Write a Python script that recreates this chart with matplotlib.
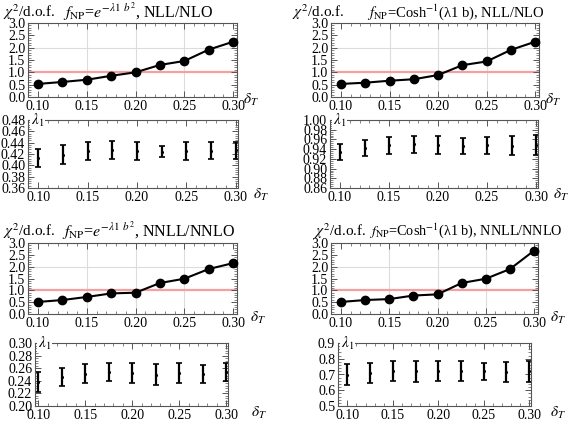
import numpy as np
import matplotlib
matplotlib.use("Agg")
import matplotlib.pyplot as plt
from matplotlib.ticker import MultipleLocator, FormatStrFormatter

plt.rcParams['font.family'] = ['Liberation Serif', 'DejaVu Serif']
plt.rcParams['mathtext.fontset'] = 'stix'

# --- DATA ---
delta_t = [0.100, 0.125, 0.150, 0.175, 0.200, 0.225, 0.250, 0.275, 0.300]

chi_exp_nll = [0.53, 0.61, 0.70, 0.86, 1.00, 1.30, 1.46, 1.92, 2.24]
chi_cosh_nll = [0.53, 0.58, 0.66, 0.72, 0.89, 1.29, 1.44, 1.91, 2.24]
chi_exp_nnll = [0.51, 0.59, 0.72, 0.87, 0.90, 1.31, 1.49, 1.90, 2.15]
chi_cosh_nnll = [0.51, 0.59, 0.63, 0.78, 0.83, 1.31, 1.49, 1.90, 2.68]

lam_exp_nll = [0.413, 0.419, 0.425, 0.427, 0.425, 0.424, 0.425, 0.426, 0.427]
lam_exp_nll_err = [0.016, 0.017, 0.016, 0.016, 0.016, 0.010, 0.016, 0.015, 0.015]
lam_cosh_nll = [0.934, 0.942, 0.948, 0.950, 0.948, 0.947, 0.948, 0.947, 0.949]
lam_cosh_nll_err = [0.017, 0.017, 0.017, 0.017, 0.019, 0.016, 0.017, 0.020, 0.021]
lam_exp_nnll = [0.238, 0.246, 0.251, 0.254, 0.252, 0.250, 0.252, 0.251, 0.254]
lam_exp_nnll_err = [0.016, 0.015, 0.015, 0.015, 0.016, 0.016, 0.016, 0.014, 0.015]
lam_cosh_nnll = [0.70, 0.71, 0.72, 0.72, 0.72, 0.72, 0.72, 0.716, 0.72]
lam_cosh_nnll_err = [0.064, 0.064, 0.064, 0.066, 0.064, 0.064, 0.053, 0.062, 0.066]

titles = [
    r'$f_{\rm NP}$=$e^{-\lambda 1\ b^2}$, NLL/NLO',
    r'$f_{\rm NP}$=Cosh$^{-1}$(λ1 b), NLL/NLO',
    r'$f_{\rm NP}$=$e^{-\lambda 1\ b^2}$, NNLL/NNLO',
    r'$f_{\rm NP}$=Cosh$^{-1}$(λ1 b), NNLL/NNLO',
]
title_size = [11.5, 10.5, 11.5, 10.3]
chi_series = [chi_exp_nll, chi_cosh_nll, chi_exp_nnll, chi_cosh_nnll]
lam_series = [(lam_exp_nll, lam_exp_nll_err), (lam_cosh_nll, lam_cosh_nll_err),
              (lam_exp_nnll, lam_exp_nnll_err), (lam_cosh_nnll, lam_cosh_nnll_err)]
lam_ylim = [(0.36, 0.48), (0.86, 1.00), (0.20, 0.30), (0.5, 0.9)]
lam_ystep = [0.02, 0.02, 0.02, 0.1]
lam_fmt = ['%.2f', '%.2f', '%.2f', '%.1f']

W, H = 568, 424
FRAME = '#555555'


def box(l, t, r, b):
    return [l / W, 1 - b / H, (r - l) / W, (b - t) / H]


# pixel boxes (left, top, right, bottom)
chi_boxes = [(28, 23, 237, 97), (331, 23, 539, 97), (28, 243, 237, 314), (331, 243, 538, 314)]
lam_boxes = [(28, 120, 238, 188), (330, 120, 538, 188), (35, 343, 228, 406), (338, 343, 531, 406)]
chi_xlim = (0.0897, 0.304)
lam_xlim = [(0.0897, 0.3025), (0.0898, 0.302), (0.0965, 0.302), (0.0897, 0.302)]
chi_label_x = [3, 292, 3, 314]
title_x = [63, 367, 62, 369]
title_y = [12, 12, 231, 231]
dlab_chi = [(1.03, -0.04), (1.03, -0.04), (1.06, -0.06), (1.06, -0.06)]
dlab_lam = [(1.07, -0.10), (1.07, -0.10), (1.12, -0.11), (1.10, -0.11)]


def style(ax):
    for s in ax.spines.values():
        s.set_color(FRAME)
        s.set_linewidth(0.8)
    ax.tick_params(which='both', direction='in', top=True, right=True,
                   color=FRAME, labelsize=10, pad=2)
    ax.tick_params(which='major', length=4, width=0.7)
    ax.tick_params(which='minor', length=2, width=0.5)
    ax.xaxis.set_major_locator(MultipleLocator(0.05))
    ax.xaxis.set_minor_locator(MultipleLocator(0.01))
    ax.xaxis.set_major_formatter(FormatStrFormatter('%.2f'))


fig = plt.figure(figsize=(W / 100, H / 100), dpi=100)

for i in range(4):
    # chi2 panel
    ax = fig.add_axes(box(*chi_boxes[i]))
    style(ax)
    ax.set_xlim(*chi_xlim)
    ax.set_ylim(0, 3)
    ax.yaxis.set_major_locator(MultipleLocator(0.5))
    ax.yaxis.set_minor_locator(MultipleLocator(0.1))
    ax.yaxis.set_major_formatter(FormatStrFormatter('%.1f'))
    for gx in [0.15, 0.20, 0.25]:
        ax.axvline(gx, color='#dcdcdc', lw=0.8, zorder=0)
    ax.axhline(2.0, color='#dcdcdc', lw=0.8, zorder=0)
    ax.axhline(1.0, color='#f4a0a0', lw=1.6, zorder=1)
    ax.plot(delta_t, chi_series[i], color='black', lw=1.5, marker='o',
            markersize=6, zorder=3, clip_on=False)
    ax.text(*dlab_chi[i], r'$\delta_T$', transform=ax.transAxes,
            ha='left', va='center', fontsize=11)
    fig.text(chi_label_x[i] / W, 1 - title_y[i] / H, r'$\chi^2$/d.o.f.',
             ha='left', va='center', fontsize=11)
    fig.text(title_x[i] / W, 1 - title_y[i] / H, titles[i],
             ha='left', va='center', fontsize=title_size[i])

    # lambda panel
    ax = fig.add_axes(box(*lam_boxes[i]))
    style(ax)
    ax.set_xlim(*lam_xlim[i])
    ax.set_ylim(*lam_ylim[i])
    ax.yaxis.set_major_locator(MultipleLocator(lam_ystep[i]))
    ax.yaxis.set_minor_locator(MultipleLocator(lam_ystep[i] / 5))
    ax.yaxis.set_major_formatter(FormatStrFormatter(lam_fmt[i]))
    vals, errs = lam_series[i]
    ax.errorbar(delta_t, vals, yerr=errs, fmt='.', color='black',
                markersize=2.5, elinewidth=1.6, capsize=2, capthick=1.2,
                clip_on=False)
    ax.text(0.015, 1.0, r'$\lambda_1$', transform=ax.transAxes, ha='left',
            va='center', fontsize=11,
            bbox=dict(facecolor='white', edgecolor='none', pad=0.5))
    ax.text(*dlab_lam[i], r'$\delta_T$', transform=ax.transAxes,
            ha='left', va='center', fontsize=11)

fig.savefig('out.png', dpi=100)
